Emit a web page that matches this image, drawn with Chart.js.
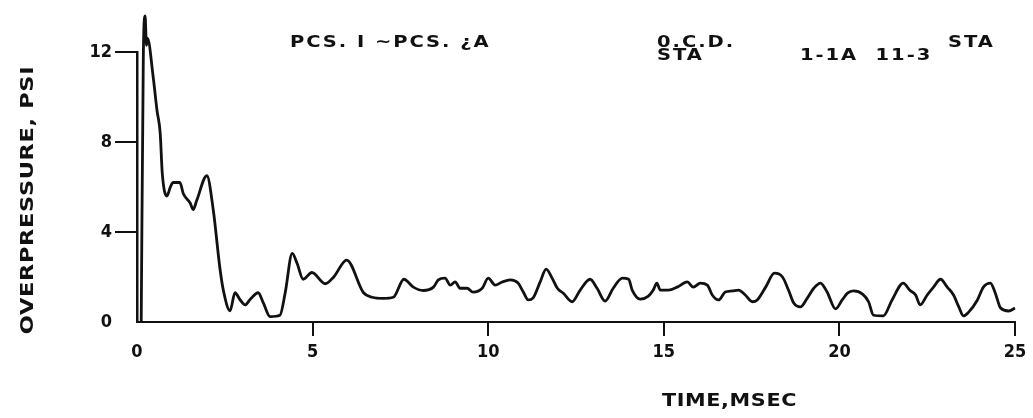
<!DOCTYPE html>
<html>
<head>
<meta charset="utf-8">
<script src="https://cdn.jsdelivr.net/npm/chart.js@4.4.1/dist/chart.umd.min.js"></script>
<style>
  html, body { margin: 0; padding: 0; background: #fff; }
  .chart-box { width: 1033px; height: 418px; }
</style>
</head>
<body>
<div class="chart-box">
  <canvas id="overpressure" width="1033" height="418"></canvas>
</div>
<script>
  // Time (msec) and overpressure (psi)
  const timeMs = [
    0.12, 0.18, 0.23, 0.27, 0.3, 0.46, 0.57, 0.66, 0.72, 0.85, 0.95, 1.03, 1.22, 1.32, 1.51, 1.6, 1.7, 1.99,
    2.17, 2.36, 2.46, 2.65, 2.79, 2.93, 3.08, 3.22, 3.45, 3.6, 3.79, 4.07, 4.22, 4.42, 4.56, 4.73, 4.98,
    5.36, 5.6, 5.97, 6.45, 6.7, 7.0, 7.3, 7.6, 7.87, 8.15, 8.44, 8.58, 8.77, 8.92, 9.06, 9.2, 9.4, 9.57, 9.83,
    10.0, 10.2, 10.4, 10.63, 10.85, 11.0, 11.14, 11.28, 11.48, 11.65, 11.82, 11.97, 12.14, 12.39, 12.62, 12.9,
    13.1, 13.33, 13.56, 13.82, 14.0, 14.1, 14.33, 14.56, 14.7, 14.8, 14.9, 15.13, 15.38, 15.67, 15.84, 16.04,
    16.24, 16.38, 16.56, 16.75, 16.95, 17.13, 17.32, 17.52, 17.66, 17.9, 18.15, 18.38, 18.55, 18.7, 18.89,
    19.09, 19.27, 19.46, 19.65, 19.89, 20.08, 20.23, 20.4, 20.66, 20.83, 20.97, 21.25, 21.5, 21.82, 22.0,
    22.17, 22.3, 22.5, 22.68, 22.88, 23.07, 23.25, 23.4, 23.53, 23.68, 23.93, 24.1, 24.3, 24.44, 24.59,
    24.82, 25.0
  ];
  const overpressurePsi = [
    0, 11.8, 13.6, 12.3, 12.6, 10.9, 9.4, 8.4, 6.6, 5.6, 6.0, 6.2, 6.2, 5.7, 5.3, 5.0, 5.4, 6.5,
    5.0, 2.4, 1.4, 0.5, 1.3, 1.0, 0.76, 1.0, 1.3, 0.84, 0.24, 0.3, 1.3, 3.05, 2.6, 1.9, 2.2,
    1.7, 2.0, 2.75, 1.3, 1.1, 1.05, 1.1, 1.9, 1.55, 1.4, 1.55, 1.87, 1.95, 1.64, 1.78, 1.5, 1.5, 1.33, 1.5,
    1.95, 1.64, 1.78, 1.87, 1.73, 1.33, 0.98, 1.07, 1.78, 2.35, 1.95, 1.5, 1.28, 0.9, 1.42, 1.9,
    1.5, 0.93, 1.5, 1.95, 1.9, 1.42, 1.02, 1.15, 1.42, 1.73, 1.42, 1.42, 1.55, 1.78, 1.55, 1.73,
    1.64, 1.2, 0.98, 1.33, 1.38, 1.42, 1.2, 0.9, 0.98, 1.55, 2.17, 2.0, 1.42, 0.84, 0.67,
    1.07, 1.5, 1.73, 1.33, 0.58, 0.98, 1.28, 1.38, 1.24, 0.9, 0.3, 0.27, 0.98, 1.73, 1.42,
    1.2, 0.76, 1.2, 1.55, 1.9, 1.55, 1.2, 0.67, 0.27, 0.44, 0.98, 1.55, 1.73, 1.28, 0.62,
    0.49, 0.62
  ];

  // Axis ticks
  const xTickValues = [0, 5, 10, 15, 20, 25];
  const yTickValues = [0, 4, 8, 12];

  const INK = "#111";
  const FONT = "'DejaVu Sans Condensed', 'Liberation Sans Narrow', 'DejaVu Sans', sans-serif";
  const WIDE_FONT = "'DejaVu Sans', 'Liberation Sans', sans-serif";

  // No tick mark at 0 on either axis (like the original plot)
  const tickColor = (ctx) => (ctx.tick && ctx.tick.value === 0 ? "rgba(0,0,0,0)" : INK);

  // plotter lettering is wide: stretch the text horizontally
  function wideText(ctx, text, x, y, stretch) {
    ctx.save();
    ctx.translate(x, y);
    ctx.scale(stretch, 1);
    ctx.fillText(text, 0, 0);
    ctx.restore();
  }

  // Header lines and axis titles
  const scanText = {
    id: "scanText",
    afterDraw(chart) {
      const ctx = chart.ctx;
      ctx.save();
      ctx.fillStyle = INK;
      ctx.textBaseline = "middle";
      ctx.textAlign = "left";

      ctx.font = "bold 15px " + WIDE_FONT;
      ctx.letterSpacing = "1.5px";
      wideText(ctx, "PCS. I ~PCS. ¿A", 290, 43, 1.3);
      wideText(ctx, "0.C.D.", 657, 43, 1.3);
      wideText(ctx, "STA", 657, 56, 1.3);
      wideText(ctx, "1-1A  11-3", 800, 56, 1.3);
      wideText(ctx, "STA", 948, 43, 1.3);

      ctx.font = "bold 17px " + WIDE_FONT;
      ctx.letterSpacing = "0.5px";
      wideText(ctx, "TIME,MSEC", 662, 402, 1.22);

      // y axis title, rotated
      ctx.font = "bold 18px " + WIDE_FONT;
      ctx.letterSpacing = "0.5px";
      ctx.translate(28, 200);
      ctx.rotate(-Math.PI / 2);
      ctx.textAlign = "center";
      wideText(ctx, "OVERPRESSURE, PSI", 0, 0, 1.25);
      ctx.restore();
    },
  };

  new Chart(document.getElementById("overpressure"), {
    type: "line",
    data: {
      datasets: [
        {
          label: "Overpressure",
          data: timeMs.map((t, i) => ({ x: t, y: overpressurePsi[i] })),
          borderColor: INK,
          borderWidth: 2.8,
          pointRadius: 0,
          cubicInterpolationMode: "monotone",
          clip: false,
        },
      ],
    },
    options: {
      responsive: false,
      animation: false,
      layout: { padding: { top: 52, right: 18, bottom: 0, left: 0 } },
      plugins: {
        legend: { display: false },
        tooltip: { enabled: false },
      },
      scales: {
        x: {
          type: "linear",
          min: 0,
          max: 25,
          afterBuildTicks: (scale) => {
            scale.ticks = xTickValues.map((v) => ({ value: v }));
          },
          afterFit: (scale) => {
            scale.height = 96;
          },
          ticks: {
            color: INK,
            padding: 6,
            font: { family: FONT, size: 18, weight: "bold" },
          },
          grid: { drawOnChartArea: false, tickLength: 14, lineWidth: 2, color: tickColor },
          border: { display: true, color: INK, width: 2 },
        },
        y: {
          min: 0,
          max: 12,
          afterBuildTicks: (scale) => {
            scale.ticks = yTickValues.map((v) => ({ value: v }));
          },
          afterFit: (scale) => {
            scale.width = 137;
          },
          ticks: {
            color: INK,
            padding: 3,
            font: { family: FONT, size: 18, weight: "bold" },
          },
          grid: { drawOnChartArea: false, tickLength: 22, lineWidth: 2, color: tickColor },
          border: { display: true, color: INK, width: 2.5 },
        },
      },
    },
    plugins: [scanText],
  });
</script>
</body>
</html>
